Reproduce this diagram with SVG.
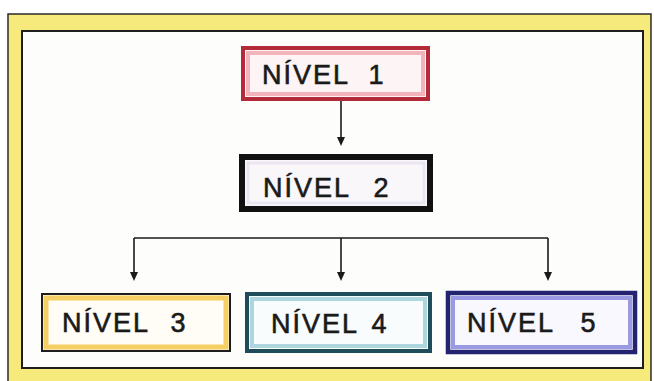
<svg xmlns="http://www.w3.org/2000/svg" width="654" height="381" viewBox="0 0 654 381">
<defs>
<style>
.lbl{font-family:"Liberation Sans",Arial,sans-serif;font-size:27px;letter-spacing:2px;fill:#1a1a1a;stroke:#1a1a1a;stroke-width:0.6}
.conn{stroke:#1a1a1a;stroke-width:1.6;fill:none}
.head{fill:#1a1a1a}
</style>
</defs>
<rect x="0" y="0" width="654" height="381" fill="#ffffff"/>
<g id="frame">
<rect x="8" y="14" width="643" height="380" fill="#f6ea7c" stroke="#2a2a2a" stroke-width="1.5"/>
<rect x="22" y="31" width="621" height="337" fill="#fdfdfc" stroke="#1e1e1e" stroke-width="2"/>
</g>
<g id="connectors">
<line class="conn" x1="341" y1="99" x2="341" y2="138"/>
<path class="head" d="M337,137 L345,137 L341,146 Z"/>
<line class="conn" x1="134" y1="238" x2="548" y2="238"/>
<line class="conn" x1="134" y1="238" x2="134" y2="273"/>
<path class="head" d="M130,272 L138,272 L134,281 Z"/>
<line class="conn" x1="341" y1="238" x2="341" y2="273"/>
<path class="head" d="M337,272 L345,272 L341,281 Z"/>
<line class="conn" x1="548" y1="238" x2="548" y2="273"/>
<path class="head" d="M544,272 L552,272 L548,281 Z"/>
</g>
<g id="nivel1">
<rect x="243" y="48" width="185" height="51" fill="#fdf4f5" stroke="#b32a38" stroke-width="4"/>
<rect x="248" y="53" width="175" height="41" fill="none" stroke="#f2b3ba" stroke-width="4"/>
<text class="lbl" x="262" y="84" word-spacing="10">NÍVEL 1</text>
</g>
<g id="nivel2">
<rect x="242" y="157" width="188" height="52" fill="#faf7fb" stroke="#111111" stroke-width="6"/>
<rect x="248" y="163" width="176" height="40" fill="none" stroke="#ece6f0" stroke-width="3"/>
<text class="lbl" x="263" y="197" word-spacing="14">NÍVEL 2</text>
</g>
<g id="nivel3">
<rect x="42" y="294" width="188" height="57" fill="#fffdf6" stroke="#1e1e1e" stroke-width="2"/>
<rect x="46" y="298" width="180" height="49" fill="none" stroke="#f5cf63" stroke-width="5"/>
<text class="lbl" x="62" y="332" word-spacing="12">NÍVEL 3</text>
</g>
<g id="nivel4">
<rect x="247" y="294" width="183" height="57" fill="#f9fcfd" stroke="#1f4c5a" stroke-width="4"/>
<rect x="252" y="299" width="173" height="47" fill="none" stroke="#aed6df" stroke-width="4"/>
<text class="lbl" x="271" y="333" word-spacing="4">NÍVEL 4</text>
</g>
<g id="nivel5">
<rect x="448" y="293" width="187" height="59" fill="#f8f8fe" stroke="#232372" stroke-width="4.5"/>
<rect x="453" y="298" width="177" height="49" fill="none" stroke="#9a9ae4" stroke-width="4"/>
<text class="lbl" x="467" y="332" word-spacing="17">NÍVEL 5</text>
</g>
</svg>
